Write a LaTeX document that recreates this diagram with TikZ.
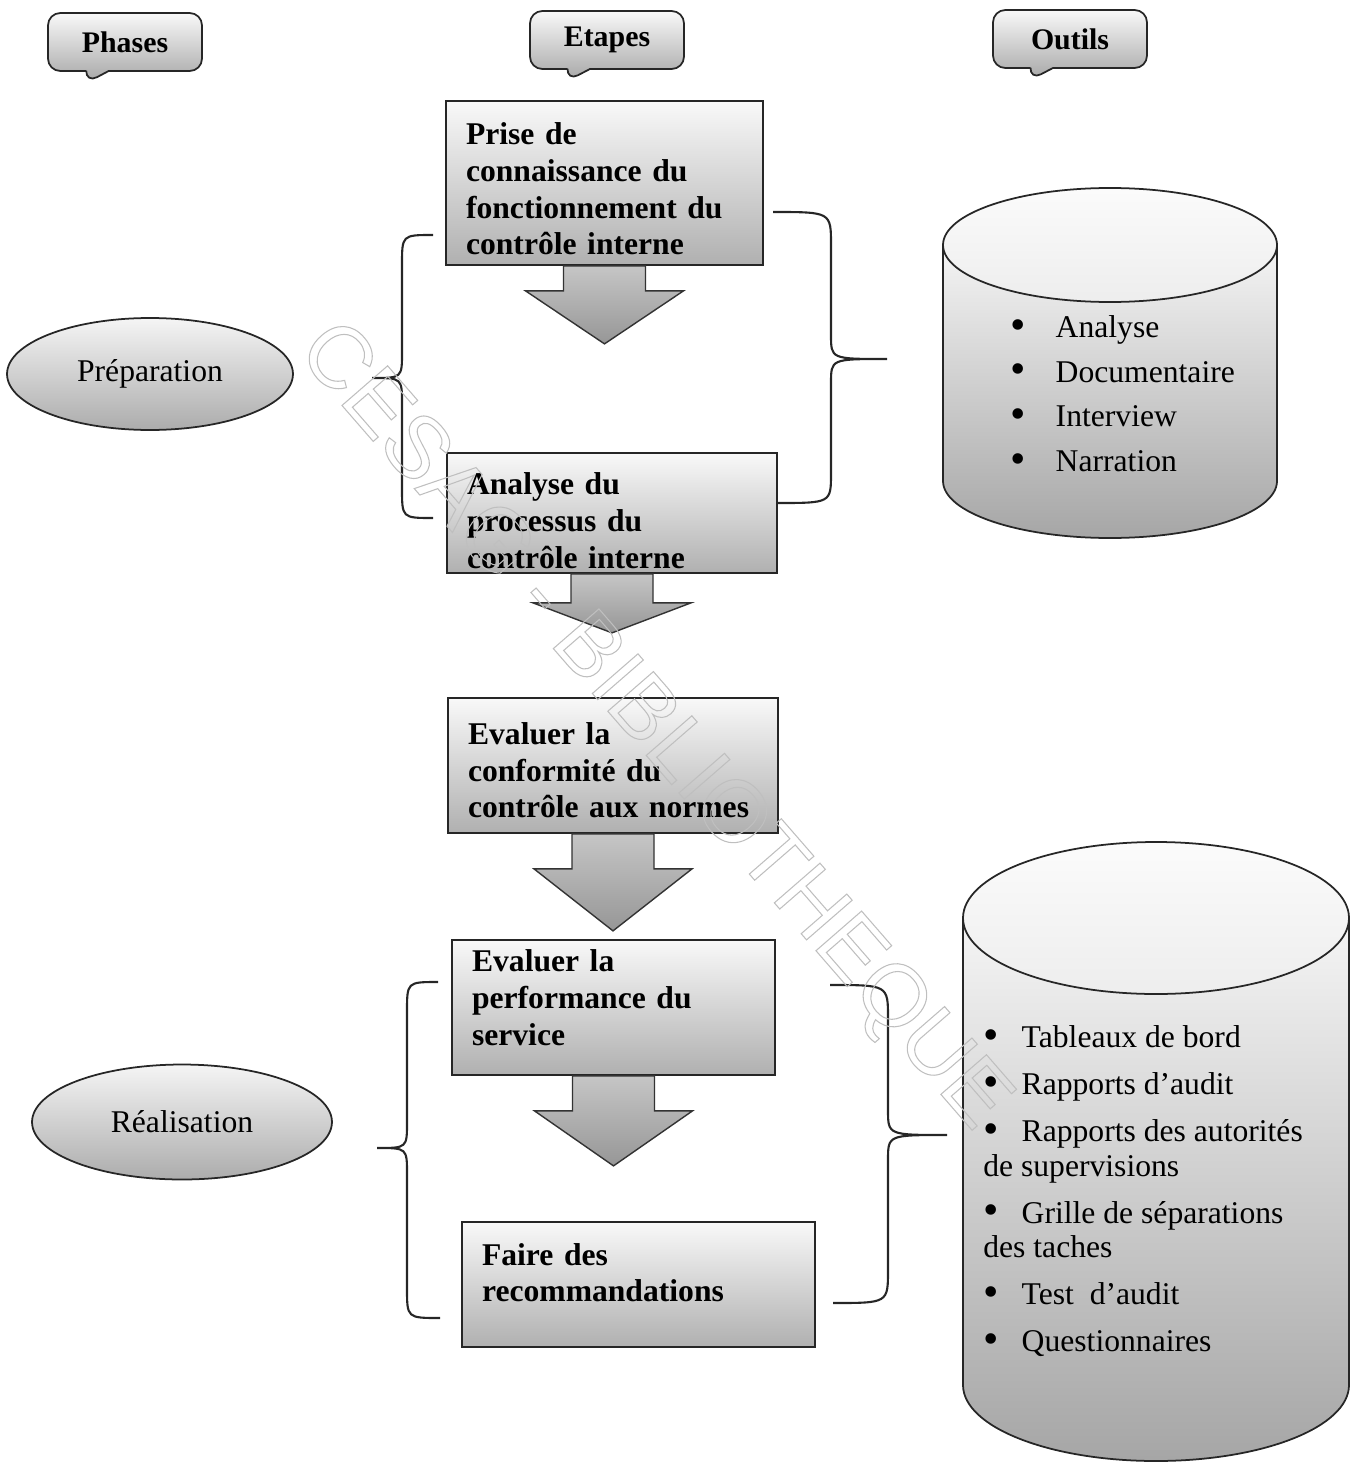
\documentclass[tikz,border=0pt]{standalone}
\usepackage{fontspec}
\setmainfont{Liberation Serif}
\newfontfamily\filigranefont{Liberation Sans}
\usetikzlibrary{shapes.geometric,shapes.callouts,calc,positioning}
\tikzset{titre/.style={rectangle callout, draw=black!85, line width=1pt, rounded corners=7pt,
                       top color=gray!5, bottom color=gray!70, minimum width=3.08cm,
                       minimum height=1.16cm, callout pointer width=0.45cm,
                       font=\bfseries\fontsize{17}{20}\selectfont},
        phase/.style={ellipse, draw=black!85, line width=1pt, inner sep=0pt,
                      top color=gray!8, bottom color=gray!65,
                      font=\fontsize{18}{21}\selectfont},
        etape/.style={rectangle, draw=black!85, line width=1pt, align=left,
                      inner xsep=0.4cm, inner ysep=0pt, top color=gray!5, bottom color=gray!62,
                      font=\bfseries\fontsize{18}{21}\selectfont},
        fleche/.style={draw=black!80, line width=0.8pt, top color=gray!45, bottom color=gray!82},
        accolade/.style={draw=black!85, line width=1.2pt},
        cylindre/.style={draw=black!85, line width=1pt, top color=gray!8, bottom color=gray!70},
        couvercle/.style={draw=black!85, line width=1pt, top color=gray!3, bottom color=gray!14},
        outil/.style={inner sep=0pt, align=left, font=\fontsize{18}{25.5}\selectfont},
        filigrane/.style={inner sep=0pt, text=gray!50,
                          font=\filigranefont\fontsize{50}{50}\selectfont},
        }
\newcommand{\blocfleche}[3]{%
  \draw[fleche] ($(#1.south)+(-41,0)$) -- ++(0,#2) -- ++(-38,0)
    -- ++(79,#3) -- ++(79,-#3) -- ++(-38,0) -- ++(0,-#2) -- cycle;}
\newcommand{\puce}[1]{\raisebox{-0.06em}{\fontsize{25}{25}\selectfont\textbullet}\hspace{#1}}

\begin{document}
\begin{tikzpicture}[x=0.02cm, y=-0.02cm]
    \useasboundingbox (0,0) rectangle (1363,1463);

    % en-tetes
    \node[titre, callout absolute pointer={(86,83)}] (phases) at (125,42) {Phases};
    \node[titre, callout absolute pointer={(567,81)}] (etapes) at (607,40) {Etapes};
    \node[titre, callout absolute pointer={(1030,80)}] (outils) at (1070,39) {Outils};

    % phases
    \node[phase, minimum width=5.72cm, minimum height=2.24cm] (preparation) at (150,374) {Préparation};
    \node[phase, minimum width=6cm, minimum height=2.3cm] (realisation) at (182,1122) {Réalisation};

    % etapes
    \node[etape, text width=5.54cm, minimum height=3.28cm] (prise) at (604.5,183)
        {\rule{0pt}{0.67cm}Prise de\\ connaissance du\\ fonctionnement du\\ contrôle interne};
    \node[etape, text width=5.8cm, minimum height=2.4cm] (analyse) at (612,513)
        {\rule{0pt}{0.75cm}Analyse du\\ processus du\\ contrôle interne};
    \node[etape, text width=5.8cm, minimum height=2.7cm] (conformite) at (613,765.5)
        {\rule{0pt}{0.63cm}Evaluer la\\ conformité du\\ contrôle aux normes};
    \node[etape, text width=5.66cm, minimum height=2.7cm] (performance) at (613.5,1007.5)
        {Evaluer la\\ performance du\\ service\rule[-0.4cm]{0pt}{0.4cm}};
    \node[etape, text width=6.26cm, minimum height=2.5cm] (faire) at (638.5,1284.5)
        {Faire des\\ recommandations\rule[-0.48cm]{0pt}{0.48cm}};

    \blocfleche{prise}{25}{53}
    \blocfleche{analyse}{29}{30}
    \blocfleche{conformite}{35}{62}
    \blocfleche{performance}{35}{55}

    % accolades
    \draw[accolade] (433,235) .. controls (402,235) .. (402,265) -- (402,352)
        .. controls (402,378) .. (372,378) .. controls (402,378) .. (402,404)
        -- (402,488) .. controls (402,518) .. (433,518);
    \draw[accolade] (773,212) .. controls (831,212) .. (831,245) -- (831,335)
        .. controls (831,359) .. (887,359) .. controls (831,359) .. (831,383)
        -- (831,473) .. controls (831,503) .. (777,503);
    \draw[accolade] (438,982) .. controls (407,982) .. (407,1012) -- (407,1122)
        .. controls (407,1148) .. (377,1148) .. controls (407,1148) .. (407,1174)
        -- (407,1288) .. controls (407,1318) .. (440,1318);
    \draw[accolade] (830,985) .. controls (888,985) .. (888,1018) -- (888,1110)
        .. controls (888,1135) .. (947,1135) .. controls (888,1135) .. (888,1160)
        -- (888,1270) .. controls (888,1303) .. (833,1303);

    % outils
    \draw[cylindre] (943,245) -- (943,481) .. controls (943,512.5) and (1017.8,538) .. (1110,538)
        .. controls (1202.2,538) and (1277,512.5) .. (1277,481) -- (1277,245) -- cycle;
    \draw[couvercle] (1110,245) ellipse [x radius=167, y radius=57];
    \node[outil, anchor=north west] (liste1) at (1010,315)
        {\puce{0.6cm}Analyse\\ \puce{0.6cm}Documentaire\\
         \puce{0.6cm}Interview\\ \puce{0.6cm}Narration};

    \draw[cylindre] (963,918) -- (963,1385) .. controls (963,1427) and (1049.4,1461) .. (1156,1461)
        .. controls (1262.6,1461) and (1349,1427) .. (1349,1385) -- (1349,918) -- cycle;
    \draw[couvercle] (1156,918) ellipse [x radius=193, y radius=76];
    \node[outil, anchor=north west, font=\fontsize{18}{19.9}\selectfont] (liste2) at (983,1025)
        {\puce{0.46cm}Tableaux de bord\\[6.8pt]
         \puce{0.46cm}Rapports d’audit\\[6.8pt]
         \puce{0.46cm}Rapports des autorités\\ de supervisions\\[6.8pt]
         \puce{0.46cm}Grille de séparations\\ des taches\\[6.8pt]
         \puce{0.46cm}Test\ \ d’audit\\[6.8pt]
         \puce{0.46cm}Questionnaires};

    % filigrane
    \node[filigrane, rotate=-49] (cesag) at (652,728)
        {\special{pdf:literal direct 1 Tr 0.6 w}CESAG - BIBLIOTHEQUE\special{pdf:literal direct 0 Tr}};
\end{tikzpicture}
\end{document}
